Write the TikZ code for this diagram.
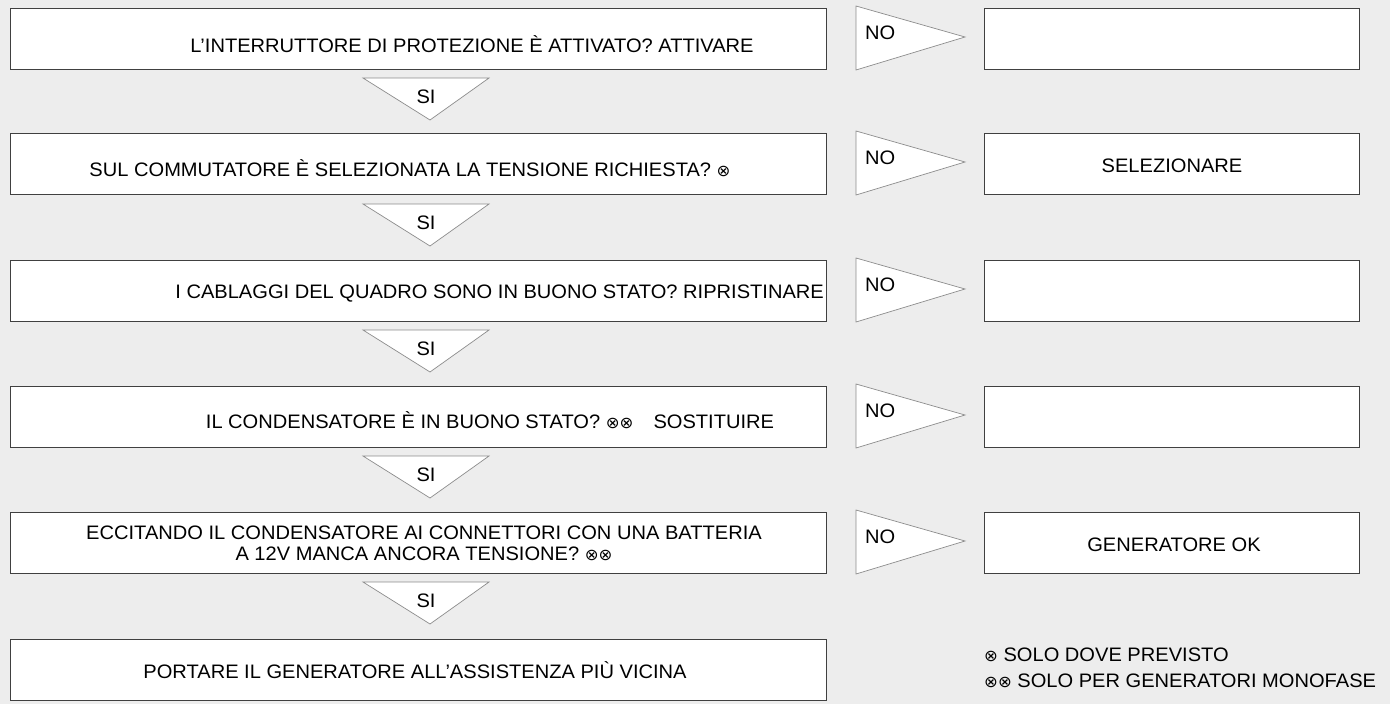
\documentclass[tikz,border=0pt]{standalone}
\usepackage{fontspec}
\setmainfont{Liberation Sans}
\newcommand{\T}[2][1.03]{\scalebox{#1}[1]{#2}}
\newcommand{\ox}{{\fontspec{DejaVu Sans}\fontsize{16}{18}\selectfont ⊗}}
\begin{document}
\begin{tikzpicture}[x=1pt,y=-1pt,
  box/.style={draw=black!75,fill=white,line width=0.9pt,minimum width=816pt,minimum height=61pt,inner sep=0pt},
  rbox/.style={draw=black!75,fill=white,line width=0.9pt,minimum width=375pt,minimum height=61pt,inner sep=0pt},
  tri/.style={draw=black!45,fill=white,line width=0.7pt},
  txt/.style={font=\fontsize{19.5}{21}\selectfont,inner sep=0pt,align=center}]
\fill[black!7] (0,0) rectangle (1390,704);
\foreach \i/\y in {1/39,2/164,3/291,4/417,5/543,6/670}{
  \node[box] (b\i) at (418,\y) {};
}
\foreach \i/\y in {1/39,2/164,3/291,4/417,5/543}{
  \node[rbox] (r\i) at (1172,\y) {};
  \draw[tri] (856,\y-33) -- (965,\y-2) -- (856,\y+31) -- cycle;
  \node[txt,anchor=west] (n\i) at (865,\y-6) {\T{NO}};
}
\foreach \i/\y in {1/73,2/199,3/325,4/451,5/577}{
  \draw[tri] (363,\y+5) -- (489,\y+5) -- (430,\y+47) -- cycle;
  \node[txt] (s\i) at (426,\y+24) {\T{SI}};
}
\node[txt] (t1) at (472,44) {\T{L’INTERRUTTORE DI PROTEZIONE È ATTIVATO? ATTIVARE}};
\node[txt] (t2) at (410,168) {\T{SUL COMMUTATORE È SELEZIONATA LA TENSIONE RICHIESTA? \ox}};
\node[txt,anchor=east] (t3) at (824,294) {\T{I CABLAGGI DEL QUADRO SONO IN BUONO STATO? RIPRISTINARE}};
\node[txt] (t4) at (490,420) {\T{IL CONDENSATORE È IN BUONO STATO? \ox\ox\hspace{1em}SOSTITUIRE}};
\node[txt] (t5) at (424,543) {\T{ECCITANDO IL CONDENSATORE AI CONNETTORI CON UNA BATTERIA}\\\T{A 12V MANCA ANCORA TENSIONE? \ox\ox}};
\node[txt] (t6) at (415,670) {\T{PORTARE IL GENERATORE ALL’ASSISTENZA PIÙ VICINA}};
\node[txt] (u2) at (1172,166) {\T{SELEZIONARE}};
\node[txt] (u5) at (1174,545) {\T{GENERATORE OK}};
\node[txt,anchor=west] (l1) at (984,655) {\T{\ox\ SOLO DOVE PREVISTO}};
\node[txt,anchor=west] (l2) at (984,681) {\T{\ox\ox\ SOLO PER GENERATORI MONOFASE}};
\end{tikzpicture}
\end{document}
